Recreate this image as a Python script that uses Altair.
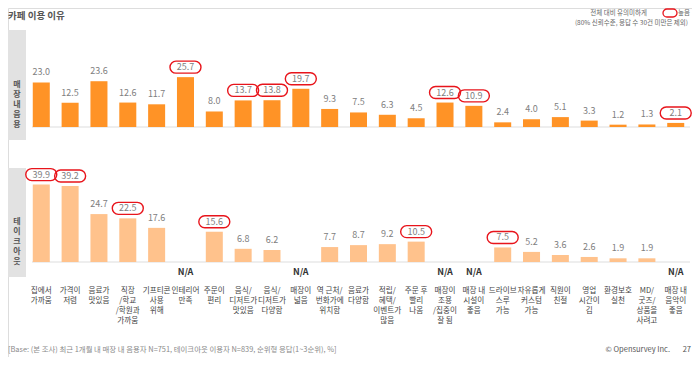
import altair as alt
import pandas as pd

FONT = "Noto Sans CJK KR"

categories = [
    "집에서\n가까움", "가격이\n저렴", "음료가\n맛있음", "직장\n/학교\n/학원과\n가까움",
    "기프티콘\n사용\n위해", "인테리어\n만족", "주문이\n편리", "음식/\n디저트가\n맛있음",
    "음식/\n디저트가\n다양함", "매장이\n넓음", "역 근처/\n번화가에\n위치함", "음료가\n다양함",
    "적립/\n혜택/\n이벤트가\n많음", "주문 후\n빨리\n나옴", "매장이\n조용\n/집중이\n잘 됨",
    "매장 내\n시설이\n좋음", "드라이브\n스루\n가능", "자유롭게\n커스텀\n가능", "직원이\n친절",
    "영업\n시간이\n김", "환경보호\n실천", "MD/\n굿즈/\n상품을\n사려고", "매장 내\n음악이\n좋음",
]
cat_ids = [f"c{i:02d}" for i in range(len(categories))]

dinein_values = [23.0, 12.5, 23.6, 12.6, 11.7, 25.7, 8.0, 13.7, 13.8, 19.7, 9.3, 7.5,
                 6.3, 4.5, 12.6, 10.9, 2.4, 4.0, 5.1, 3.3, 1.2, 1.3, 2.1]
dinein_high = [0, 0, 0, 0, 0, 1, 0, 1, 1, 1, 0, 0, 0, 0, 1, 1, 0, 0, 0, 0, 0, 0, 1]

takeout_values = [39.9, 39.2, 24.7, 22.5, 17.6, None, 15.6, 6.8, 6.2, None, 7.7, 8.7,
                  9.2, 10.5, None, None, 7.5, 5.2, 3.6, 2.6, 1.9, 1.9, None]
takeout_high = [1, 1, 0, 1, 0, 0, 1, 0, 0, 0, 0, 0, 0, 1, 0, 0, 1, 0, 0, 0, 0, 0, 0]

panel_labels = ["매\n장\n내\n음\n용", "테\n이\n크\n아\n웃"]
title_text = "카페 이용 이유"
legend_line1 = "전체 대비 유의미하게"
legend_high = "높음"
legend_line2 = "(80% 신뢰수준, 응답 수 30건 미만은 제외)"
footer_left = "[Base: (본 조사) 최근 1개월 내 매장 내 음용자 N=751, 테이크아웃 이용자 N=839, 순위형 응답(1~3순위), %]"
footer_brand = "© Opensurvey Inc."
footer_page = "27"

TOP_COLOR = "#FF9326"
BOT_COLOR = "#FFC28C"
RED = "#E8141B"

top_df = pd.DataFrame({"id": cat_ids, "label": categories, "value": dinein_values,
                       "high": dinein_high})
bot_df = pd.DataFrame({"id": cat_ids, "label": categories, "value": takeout_values,
                       "high": takeout_high})
bot_df["vtxt"] = bot_df["value"].map(lambda v: "" if pd.isna(v) else f"{v:.1f}")
top_df["vtxt"] = top_df["value"].map(lambda v: f"{v:.1f}")
bot_valid = bot_df[bot_df["value"].notna()].copy()
bot_na = bot_df[bot_df["value"].isna()].copy()

xscale = alt.Scale(domain=cat_ids, range=[19, 682], paddingInner=0.41, paddingOuter=0.2)
X = alt.X("id:N", scale=xscale, axis=None, sort=cat_ids)

top_y = alt.Y("value:Q", scale=alt.Scale(domain=[0, 50], range=[119, 22]), axis=None)
bot_y = alt.Y("value:Q", scale=alt.Scale(domain=[0, 50], range=[254, 157]), axis=None)

pill = ("M -0.613 -0.387 L 0.613 -0.387 A 0.387 0.387 0 0 1 0.613 0.387 "
        "L -0.613 0.387 A 0.387 0.387 0 0 1 -0.613 -0.387 Z")
pill_small = ("M -0.43 -0.571 L 0.43 -0.571 A 0.571 0.571 0 0 1 0.43 0.571 "
              "L -0.43 0.571 A 0.571 0.571 0 0 1 -0.43 -0.571 Z")

one = pd.DataFrame({"k": [0]})

# panel boxes
boxes_df = pd.DataFrame({"x": [0, 0], "x2": [18, 18], "y": [22, 160], "y2": [132, 269],
                         "t": panel_labels, "ty": [77, 214]})
boxes = alt.Chart(boxes_df).mark_rect(color="#E2E2E2").encode(
    x=alt.X("x:Q", scale=None), x2="x2:Q", y=alt.Y("y:Q", scale=None), y2="y2:Q")
box_text = alt.Chart(boxes_df).mark_text(
    font=FONT, fontSize=8, fontWeight="bold", color="#555555", lineBreak="\n",
    lineHeight=10, baseline="middle", align="center").encode(
    x=alt.value(9), y=alt.Y("ty:Q", scale=None), text="t:N")

rules_df = pd.DataFrame({"y": [119, 254]})
rules = alt.Chart(rules_df).mark_rule(color="#DDDDDD", strokeWidth=1).encode(
    x=alt.value(24), x2=alt.value(682), y=alt.Y("y:Q", scale=None))

top_bars = alt.Chart(top_df).mark_bar(color=TOP_COLOR).encode(x=X, y=top_y)
top_lbl = alt.Chart(top_df).mark_text(font=FONT, fontSize=9, color="#808080",
                                      baseline="middle", dy=-10).encode(x=X, y=top_y, text="vtxt:N")
top_pill = alt.Chart(top_df[top_df["high"] == 1]).mark_point(
    shape=pill, size=961, filled=False, stroke=RED, strokeWidth=1.4, opacity=1,
    yOffset=-10).encode(x=X, y=top_y)

bot_bars = alt.Chart(bot_valid).mark_bar(color=BOT_COLOR).encode(x=X, y=bot_y)
bot_lbl = alt.Chart(bot_valid).mark_text(font=FONT, fontSize=9, color="#808080",
                                         baseline="middle", dy=-10).encode(x=X, y=bot_y, text="vtxt:N")
bot_pill = alt.Chart(bot_valid[bot_valid["high"] == 1]).mark_point(
    shape=pill, size=961, filled=False, stroke=RED, strokeWidth=1.4, opacity=1,
    yOffset=-10).encode(x=X, y=bot_y)
bot_na_txt = alt.Chart(bot_na).mark_text(font=FONT, fontSize=9, fontWeight="bold",
                                         color="#333333", baseline="middle").encode(
    x=X, y=alt.value(264), text=alt.value("N/A"))

xlabels = alt.Chart(top_df).mark_text(font=FONT, fontSize=7.6, color="#444444",
                                      baseline="top", lineBreak="\n", lineHeight=10).encode(
    x=X, y=alt.value(279), text="label:N")

title = alt.Chart(one).mark_text(font=FONT, fontSize=9.5, fontWeight="bold", color="#555555",
                                 align="left", baseline="middle").encode(
    x=alt.value(0), y=alt.value(8), text=alt.value(title_text))
leg1 = alt.Chart(one).mark_text(font=FONT, fontSize=6.5, color="#666666", align="right",
                                baseline="middle").encode(
    x=alt.value(639), y=alt.value(5), text=alt.value(legend_line1))
leg_pill = alt.Chart(one).mark_point(shape=pill_small, size=196, filled=False, stroke=RED,
                                     strokeWidth=1.3, opacity=1).encode(
    x=alt.value(662), y=alt.value(5))
leg_high = alt.Chart(one).mark_text(font=FONT, fontSize=6.5, color="#666666", align="left",
                                    baseline="middle").encode(
    x=alt.value(670), y=alt.value(5), text=alt.value(legend_high))
leg2 = alt.Chart(one).mark_text(font=FONT, fontSize=6.5, color="#666666", align="right",
                                baseline="middle").encode(
    x=alt.value(680), y=alt.value(15), text=alt.value(legend_line2))
foot1 = alt.Chart(one).mark_text(font=FONT, fontSize=7.4, color="#8A8A8A", align="left",
                                 baseline="middle").encode(
    x=alt.value(0), y=alt.value(342), text=alt.value(footer_left))
foot2 = alt.Chart(one).mark_text(font=FONT, fontSize=7.5, color="#555555", align="right",
                                 baseline="middle").encode(
    x=alt.value(662), y=alt.value(342), text=alt.value(footer_brand))
foot3 = alt.Chart(one).mark_text(font=FONT, fontSize=7.5, color="#555555", align="right",
                                 baseline="middle").encode(
    x=alt.value(683), y=alt.value(342), text=alt.value(footer_page))

chart = alt.layer(
    boxes, box_text, rules, top_bars, top_lbl, top_pill, bot_bars, bot_lbl, bot_pill,
    bot_na_txt, xlabels, title, leg1, leg_pill, leg_high, leg2, foot1, foot2, foot3
).resolve_scale(y="independent", x="shared").properties(
    width=684, height=349, autosize=alt.AutoSizeParams(type="none"), padding=0
).configure_view(stroke=None).configure(background="white")

chart.save("out.html", embed_options={"renderer": "svg", "actions": False})
